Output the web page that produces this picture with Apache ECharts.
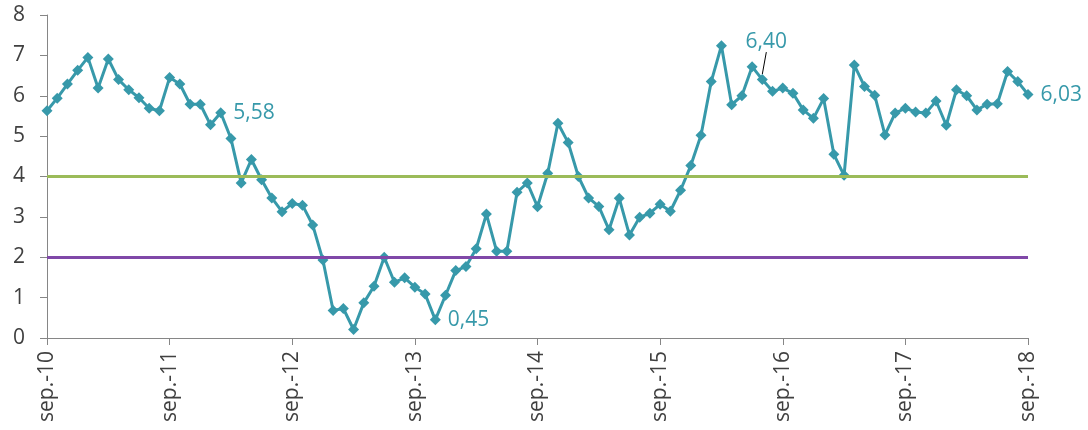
<!DOCTYPE html>
<html>
<head>
<meta charset="utf-8">
<script src="https://cdn.jsdelivr.net/npm/echarts@6/dist/echarts.min.js"></script>
<style>
html,body{margin:0;padding:0;background:#fff;}
#c{width:1088px;height:430px;}
</style>
</head>
<body>
<div id="c"></div>
<script>
// Month abbreviations and years used to build monthly category labels (sep.-10 ... sep.-18)
var monthNames = ['ene.','feb.','mar.','abr.','may.','jun.','jul.','ago.','sep.','oct.','nov.','dic.'];
var startYear = 2010, startMonth = 8; // September 2010
var monthCount = 97;                  // through September 2018

// Series values (monthly)
var values = [
  5.63, 5.94, 6.29, 6.63, 6.95, 6.19, 6.91, 6.40, 6.15, 5.95, 5.69, 5.63,
  6.45, 6.29, 5.79, 5.79, 5.28, 5.58, 4.94, 3.84, 4.42, 3.92, 3.47, 3.13,
  3.33, 3.29, 2.80, 1.93, 0.68, 0.73, 0.21, 0.87, 1.28, 2.00, 1.38, 1.49,
  1.26, 1.09, 0.45, 1.06, 1.67, 1.77, 2.21, 3.07, 2.15, 2.15, 3.61, 3.84,
  3.25, 4.08, 5.32, 4.84, 4.00, 3.47, 3.26, 2.68, 3.46, 2.55, 2.99, 3.09,
  3.31, 3.14, 3.66, 4.27, 5.02, 6.35, 7.24, 5.78, 6.00, 6.72, 6.40, 6.11,
  6.19, 6.06, 5.65, 5.44, 5.93, 4.55, 4.03, 6.76, 6.23, 6.01, 5.03, 5.57,
  5.69, 5.60, 5.57, 5.87, 5.27, 6.15, 6.00, 5.65, 5.79, 5.80, 6.60, 6.35,
  6.03
];

// Reference levels
var upperLevel = 4;
var lowerLevel = 2;

// Indices of labelled points
var labelRight = [17, 38, 96];
var labelLeader = 70;

var categories = [];
for (var k = 0; k < monthCount; k++) {
  var m = (startMonth + k) % 12;
  var y = startYear + Math.floor((startMonth + k) / 12);
  categories.push(monthNames[m] + '-' + String(y).slice(2));
}

var teal = '#3799AA';
var fontFam = '"Open Sans", Lato, sans-serif';

function fmt(v){ return v.toFixed(2).replace('.', ','); }

var seriesData = values.map(function(v, i){
  if (labelRight.indexOf(i) >= 0) {
    return {value: v, label: {show: true, position: 'right', distance: 7, formatter: fmt(v)}};
  }
  if (i === labelLeader) {
    return {value: v, label: {show: true, position: 'top', distance: 6, formatter: fmt(v)},
            labelLine: {show: true, lineStyle: {color: '#000', width: 1}}};
  }
  return v;
});

var chart = echarts.init(document.getElementById('c'));
chart.setOption({
  animation: false,
  backgroundColor: '#fff',
  textStyle: {fontFamily: fontFam},
  grid: {left: 47, right: 60, top: 15, bottom: 92, containLabel: false},
  xAxis: {
    type: 'category',
    data: categories,
    boundaryGap: false,
    axisLine: {lineStyle: {color: '#868686', width: 1}},
    axisTick: {show: true, interval: 11, length: 7, lineStyle: {color: '#868686'}},
    axisLabel: {interval: 11, rotate: 90, color: '#404040', fontSize: 21, fontFamily: fontFam, margin: 13},
    splitLine: {show: false}
  },
  yAxis: {
    type: 'value',
    min: 0, max: 8, interval: 1,
    axisLine: {show: true, lineStyle: {color: '#868686', width: 1}},
    axisTick: {show: true, length: 7, lineStyle: {color: '#868686'}},
    axisLabel: {color: '#404040', fontSize: 21, fontFamily: fontFam, margin: 22},
    splitLine: {show: false}
  },
  series: [
    {
      type: 'line',
      data: [],
      z: 1,
      silent: true,
      markLine: {
        silent: true,
        symbol: 'none',
        label: {show: false},
        data: [
          {yAxis: upperLevel, lineStyle: {color: '#9BBB59', width: 3, type: 'solid'}},
          {yAxis: lowerLevel, lineStyle: {color: '#8048A8', width: 3, type: 'solid'}}
        ]
      }
    },
    {
      type: 'line',
      z: 3,
      data: seriesData,
      symbol: 'diamond',
      symbolSize: 11,
      showSymbol: true,
      showAllSymbol: true,
      lineStyle: {color: teal, width: 3},
      itemStyle: {color: teal},
      label: {color: teal, fontSize: 21, fontFamily: fontFam},
      labelLayout: function(params){
        if (params.dataIndex === labelLeader) {
          return {dx: 4, dy: -16};
        }
      }
    }
  ]
});
</script>
</body>
</html>
